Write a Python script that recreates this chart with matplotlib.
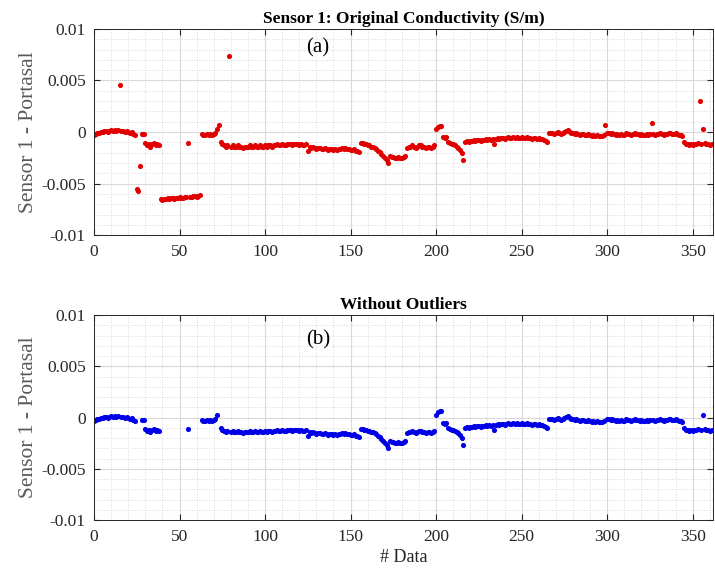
import matplotlib
matplotlib.use("Agg")
import matplotlib.pyplot as plt
import numpy as np
from matplotlib.ticker import MultipleLocator

# conductivity difference, units of 1e-4 S/m, one value per sample index
top_vals = [
    -3, -2, -1, -1, 0, 0, 1, 1, 0, 1,
    2, 1, 2, 1, 2, 46, 1, 1, 0, 1,
    0, -1, 0, -2, -3, -55, -57, -33, -2, -2,
    -11, -13, -12, -14, -12, -11, -13, -12, -13, -65,
    -66, -65, -65, -64, -65, -64, -64, -65, -64, -64,
    -63, -64, -64, -63, -63, -11, -63, -63, -62, -62,
    -63, -62, -61, -2, -3, -3, -2, -3, -2, -3,
    -2, -1, 3, 7, -10, -12, -13, -14, -13, 74,
    -14, -13, -14, -14, -13, -14, -14, -15, -14, -14,
    -14, -13, -14, -14, -13, -14, -14, -13, -14, -14,
    -13, -14, -13, -13, -14, -13, -13, -12, -13, -13,
    -12, -13, -13, -12, -12, -12, -13, -12, -12, -12,
    -13, -12, -13, -13, -12, -18, -14, -15, -14, -15,
    -16, -15, -15, -16, -16, -15, -16, -17, -16, -16,
    -17, -16, -17, -16, -16, -15, -16, -15, -16, -16,
    -17, -17, -16, -18, -18, -19, -11, -11, -12, -12,
    -13, -13, -14, -14, -15, -16, -18, -19, -21, -23,
    -25, -27, -30, -23, -24, -24, -25, -25, -24, -25,
    -25, -24, -23, -15, -14, -14, -13, -14, -15, -14,
    -13, -13, -14, -14, -15, -14, -14, -15, -14, -13,
    3, 5, 6, 6, -5, -6, -5, -10, -11, -12,
    -12, -13, -14, -15, -17, -20, -27, -10, -9, -10,
    -9, -9, -8, -9, -8, -8, -9, -8, -8, -7,
    -8, -7, -8, -7, -12, -7, -6, -7, -6, -6,
    -7, -6, -5, -6, -6, -5, -6, -5, -6, -6,
    -5, -6, -6, -5, -6, -6, -7, -6, -6, -7,
    -6, -7, -7, -8, -9, -10, -1, -1, -1, -2,
    -1, 0, -1, -2, -1, 0, 1, 2, 0, -1,
    -1, -2, -1, -2, -3, -2, -2, -3, -3, -2,
    -3, -4, -3, -4, -3, -4, -4, -4, -3, 7,
    -1, -1, -2, -1, -2, -3, -2, -3, -2, -3,
    -3, -1, -2, -2, -3, -2, -1, -2, -2, -3,
    -2, -3, -3, -2, -3, -2, 9, -2, -3, -2,
    -2, -1, -2, -3, -2, -2, -1, -1, -2, -2,
    -1, -2, -3, -3, -4, -10, -12, -12, -13, -12,
    -13, -12, -12, -11, 30, -12, 3, -11, -12, -12,
    -13, -12,
]

# indices removed in the cleaned series
outlier_idx = [15, 25, 26, 27] + list(range(39, 55)) + list(range(56, 63)) + [73, 79, 299, 326, 354]

x_ticks = [0, 50, 100, 150, 200, 250, 300, 350]
y_ticks = [-0.01, -0.005, 0, 0.005, 0.01]
y_labels = ["-0.01", "-0.005", "0", "0.005", "0.01"]

plt.rcParams["font.family"] = ["Liberation Serif", "DejaVu Serif"]

raw = np.array(top_vals, dtype=float) * 1e-4
idx = np.arange(len(raw))
clean = raw.copy()
clean[outlier_idx] = np.nan

fig = plt.figure(figsize=(7.15, 5.78), dpi=100)
ax1 = fig.add_axes([0.1315, 0.593, 0.866, 0.357])
ax2 = fig.add_axes([0.1315, 0.100, 0.866, 0.355])


def style(ax):
    ax.set_xlim(0, 362)
    ax.set_ylim(-0.01, 0.01)
    ax.set_xticks(x_ticks)
    ax.set_yticks(y_ticks)
    ax.set_yticklabels(y_labels)
    ax.xaxis.set_minor_locator(MultipleLocator(10))
    ax.yaxis.set_minor_locator(MultipleLocator(0.001))
    ax.grid(True, which="major", color="#d9d9d9", linewidth=0.8)
    ax.grid(True, which="minor", color="#cccccc", linestyle=(0, (1, 2)), linewidth=0.6)
    ax.set_axisbelow(True)
    ax.tick_params(which="both", direction="in", top=True, right=True,
                   labelsize=12.5, colors="#262626")
    ax.tick_params(which="minor", length=0)
    ax.tick_params(which="major", length=4, pad=6)
    for s in ax.spines.values():
        s.set_color("#262626")
        s.set_linewidth(0.7)
    ax.set_ylabel("Sensor 1 - Portasal", fontsize=15.5, color="#595959", labelpad=2)


ax1.plot(idx, raw, "o", color="#e00000", markersize=3.7, markeredgewidth=0)
style(ax1)
ax1.set_title("Sensor 1: Original Conductivity (S/m)", fontsize=12.5,
              fontweight="bold", pad=4)
ax1.text(131, 0.0082, "(a)", fontsize=15, ha="center", va="center")

ax2.plot(idx, clean, "o", color="#0000e6", markersize=3.7, markeredgewidth=0)
style(ax2)
ax2.set_title("Without Outliers", fontsize=12.5, fontweight="bold", pad=4)
ax2.text(131, 0.0076, "(b)", fontsize=15, ha="center", va="center")
ax2.set_xlabel("# Data", fontsize=13, color="#262626", labelpad=3)

fig.savefig("out.png", dpi=100)
